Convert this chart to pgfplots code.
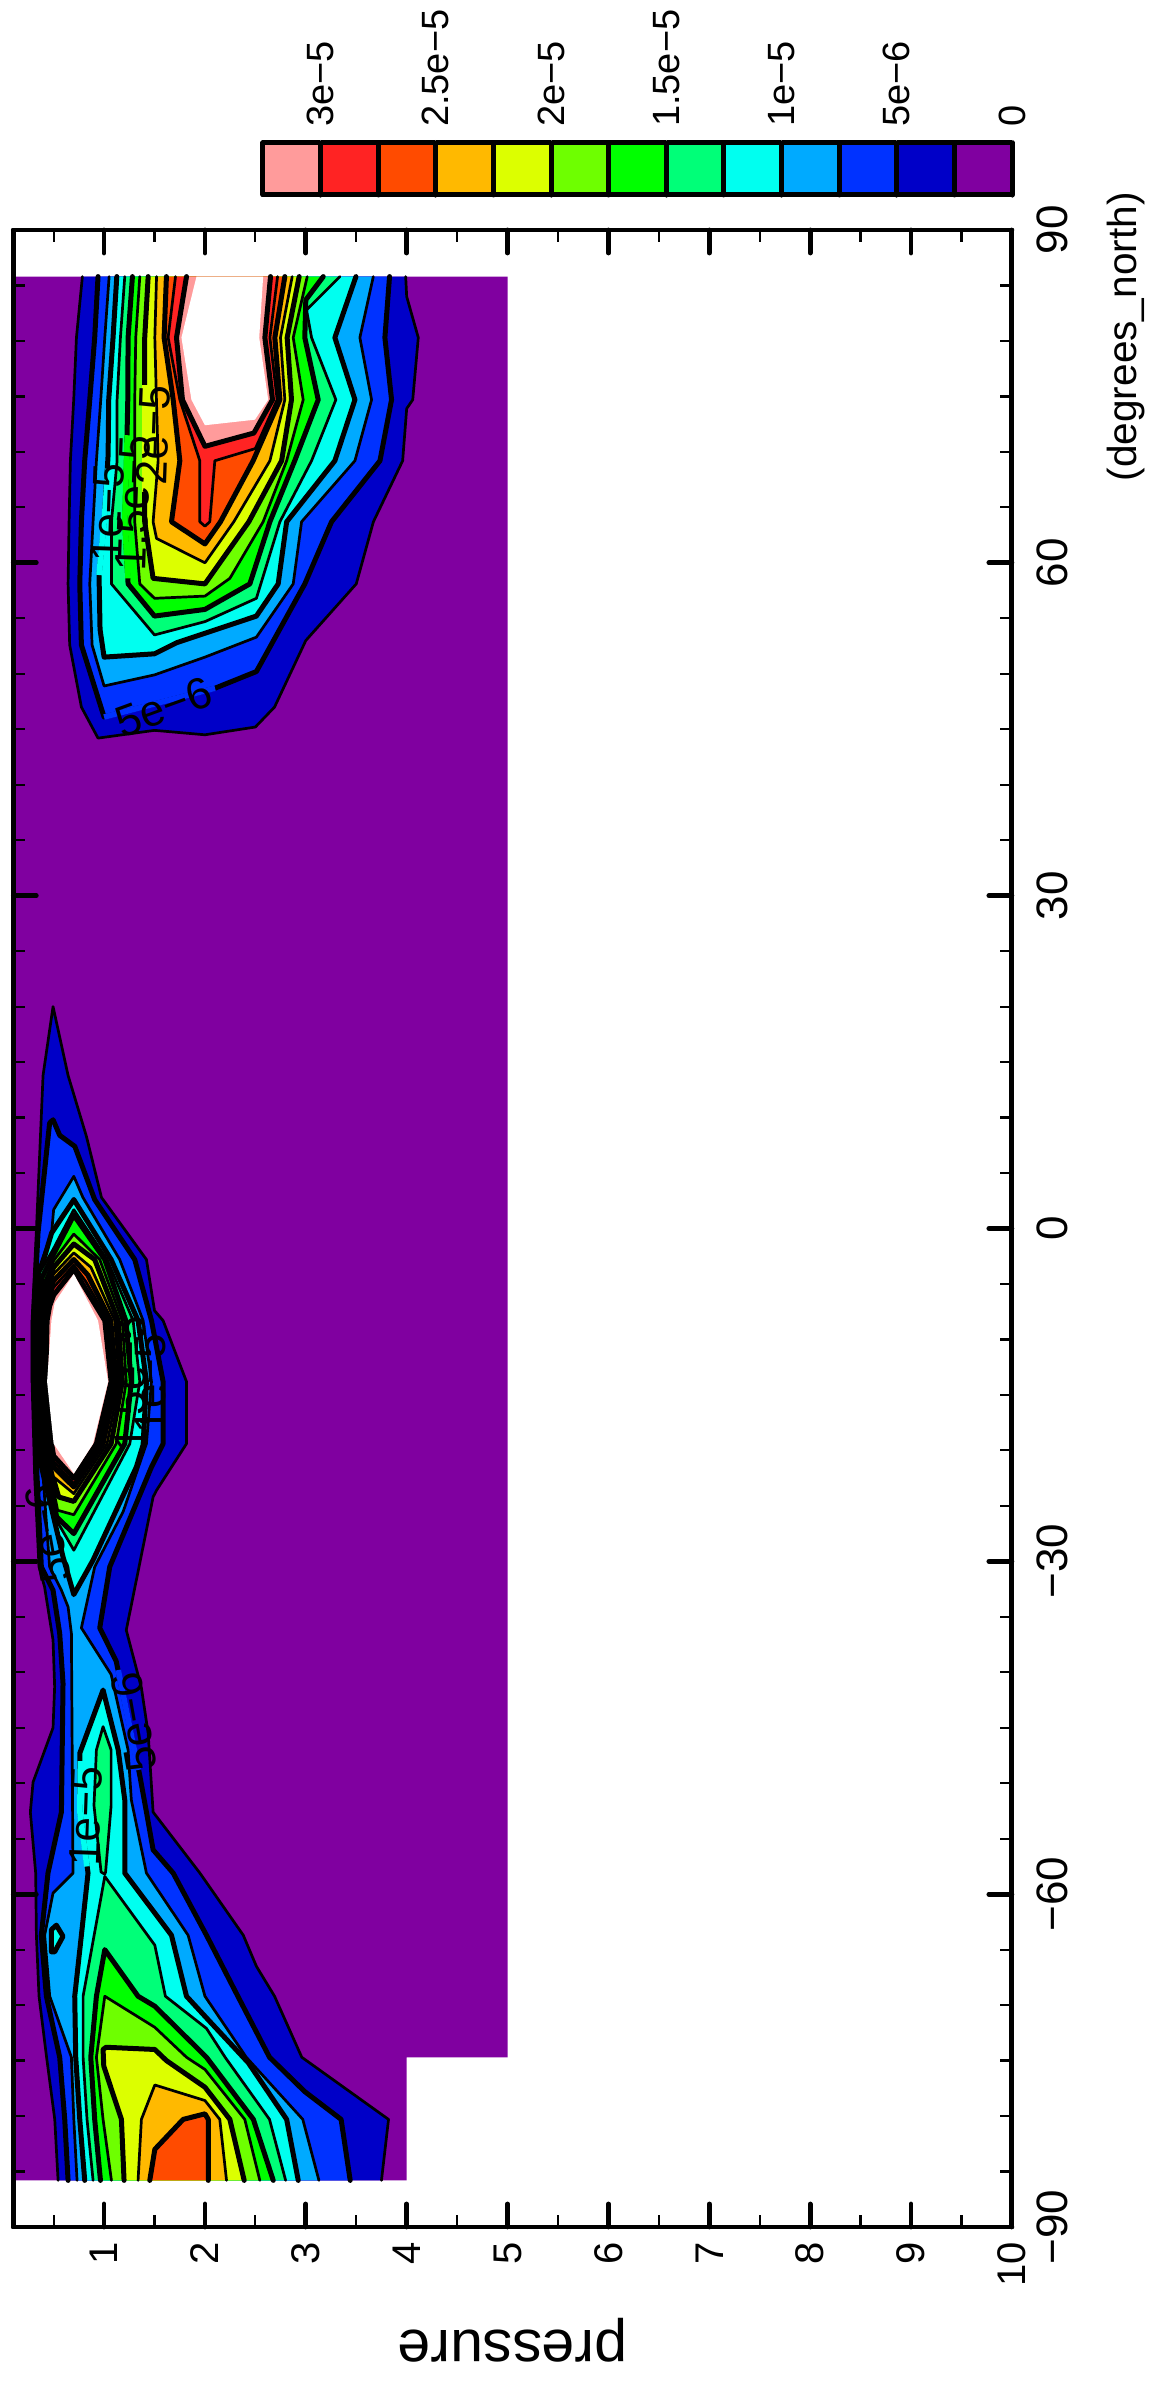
\documentclass[border=0pt]{standalone}
\usepackage{fontspec}
\setmainfont{Liberation Sans}
\usepackage{pgfplots}
\pgfplotsset{compat=1.18}
\definecolor{c0}{RGB}{128,0,160}
\definecolor{c1}{RGB}{0,0,200}
\definecolor{c2}{RGB}{0,50,255}
\definecolor{c3}{RGB}{0,170,255}
\definecolor{c4}{RGB}{0,255,240}
\definecolor{c5}{RGB}{0,255,120}
\definecolor{c6}{RGB}{0,255,0}
\definecolor{c7}{RGB}{110,255,0}
\definecolor{c8}{RGB}{220,255,0}
\definecolor{c9}{RGB}{255,185,0}
\definecolor{c10}{RGB}{255,75,0}
\definecolor{c11}{RGB}{255,35,35}
\definecolor{c12}{RGB}{255,155,155}
\pgfplotsset{
  lnt/.style={draw=black,line width=1.35pt,line join=round,line cap=round},
  lnk/.style={draw=black,line width=2.5pt,line join=round,line cap=round},
}
\newcommand{\tfont}{\fontsize{20}{24}\selectfont}
\newcommand{\cfont}{\fontsize{22}{26}\selectfont}
\begin{document}
\begin{tikzpicture}
\path[use as bounding box] (0pt,0pt) rectangle (575.5pt,1191.5pt);
\begin{axis}[
  at={(6.65pt,78pt)}, anchor=south west,
  scale only axis, width=499.3pt, height=998.5pt,
  xmin=0.1, xmax=10, ymin=-90, ymax=90,
  axis on top, no markers,
  axis line style={line width=2.4pt,line join=round},
  xtick={1,2,3,4,5,6,7,8,9,10},
  xticklabels={1,2,3,4,5,6,7,8,9,10},
  minor xtick={0.5,1.5,2.5,3.5,4.5,5.5,6.5,7.5,8.5,9.5},
  ytick={-90,-60,-30,0,30,60,90},
  yticklabels={−90,−60,−30,0,30,60,90},
  minor ytick={-85,-80,-75,-70,-65,-55,-50,-45,-40,-35,-25,-20,-15,-10,-5,5,10,15,20,25,35,40,45,50,55,65,70,75,80,85},
  tick align=inside,
  major tick length=11.5pt, minor tick length=6pt,
  every major tick/.append style={line width=2.4pt,line cap=round,black},
  every minor tick/.append style={line width=1.1pt,black},
  yticklabel pos=right,
  xticklabel style={font=\tfont,rotate=90,anchor=east,xshift=-4pt},
  yticklabel style={font=\fontsize{22}{26}\selectfont,rotate=90,anchor=north,yshift=-9pt},
  xlabel={pressure},
  ylabel={(degrees\_north)},
  every axis x label/.style={at={(axis description cs:0.5,-0.0566)},anchor=center,rotate=180,font=\fontsize{29.5}{34}\selectfont},
  every axis y label/.style={at={(axis description cs:1.114,0.9465)},anchor=center,rotate=90,font=\fontsize{20.3}{24}\selectfont},
]
% data area
\addplot[fill=c0,draw=none] coordinates {(0.1,-85.8)(4,-85.8)(4,-74.7)(5,-74.7)(5,85.8)(0.1,85.8)};

% north blob
\addplot[lnt,fill=c1] coordinates {(0.785,85.8)(0.726,80.3)(0.699,74.7)(0.666,69.2)(0.653,63.7)(0.643,58.1)(0.659,52.6)(0.775,47)(0.94,44.2)(1.5,44.9)(2,44.5)(2.5,45.2)(2.69,47)(3,53)(3.5,58.1)(3.67,63.7)(3.96,69.2)(4,73.9)(4.06,74.7)(4.115,80.3)(4,84)(3.99,85.8)};
\addplot[lnk,fill=c2] coordinates {(0.94,85.8)(0.907,80.3)(0.858,74.7)(0.808,69.2)(0.775,63.7)(0.759,58.1)(0.775,52.6)(1.0,46.1)(2.1,48.7)(2.51,50.2)(2.99,58.1)(3.255,63.7)(3.735,69.2)(3.85,74.7)(3.784,80.3)(3.83,85.8)};
\addplot[lnt,fill=c3] coordinates {(1.05,85.8)(1.007,80.3)(0.967,74.7)(0.924,69.2)(0.891,63.7)(0.858,58.1)(0.881,52.6)(1.0,48.9)(1.5,49.9)(2,51.5)(2.51,53.3)(2.875,58.1)(2.958,63.7)(3.487,69.2)(3.652,74.7)(3.536,80.3)(3.669,85.8)};
\addplot[lnk,fill=c4] coordinates {(1.126,85.8)(1.089,80.3)(1.046,74.7)(1.04,69.7)(1.0,63.7)(0.95,58.9)(0.96,54)(1.0,51.5)(1.5,51.8)(1.72,52.8)(2.51,55.2)(2.726,58.1)(2.81,63.7)(3.288,69.2)(3.487,74.7)(3.288,80.3)(3.497,85.8)};
\addplot[lnt,fill=c5] coordinates {(1.205,85.8)(1.162,80.3)(1.129,74.7)(1.129,69.2)(1.073,63.7)(1.073,58.1)(1.5,53.5)(2,54.7)(2.51,56.8)(2.743,63.7)(3.057,69.2)(3.298,74.7)(3.057,80.3)(3.007,82.8)(3.338,85.8)};
\addplot[lnk,fill=c6] coordinates {(1.281,85.8)(1.238,80.3)(1.235,74.7)(1.222,69.2)(1.205,63.7)(1.238,58.1)(1.5,55.2)(2,55.8)(2.445,58.1)(2.644,63.7)(2.89,69.2)(3.123,74.7)(2.99,80.3)(3.0,83.7)(3.173,85.8)};
\addplot[lnt,fill=c7] coordinates {(1.354,85.8)(1.314,80.3)(1.304,74.7)(1.304,69.2)(1.304,63.7)(1.354,58.1)(1.5,56.8)(2,57)(2.247,58.6)(2.577,63.7)(2.81,69.2)(2.974,74.7)(2.875,80.3)(3.014,85.8)};
\addplot[lnk,fill=c8] coordinates {(1.437,85.8)(1.403,80.3)(1.403,74.7)(1.403,69.2)(1.403,63.7)(1.486,58.6)(2,58.1)(2.435,63.7)(2.76,69.2)(2.858,74.7)(2.815,80.3)(2.934,85.8)};
\addplot[lnt,fill=c9] coordinates {(1.52,85.8)(1.503,80.3)(1.519,74.7)(1.536,69.2)(1.486,63.7)(1.52,62.2)(2,60)(2.286,63.7)(2.644,69.2)(2.792,74.7)(2.749,80.3)(2.865,85.8)};
\addplot[lnk,fill=c10] coordinates {(1.618,85.8)(1.595,80.3)(1.685,74.7)(1.751,69.2)(1.668,63.7)(2,61.7)(2.154,63.7)(2.478,69.2)(2.743,74.7)(2.693,80.3)(2.792,85.8)};
\addplot[lnt,fill=c11] coordinates {(1.708,85.8)(1.635,80.3)(1.751,74.7)(1.949,69.2)(1.949,63.7)(2,63.3)(2.048,63.7)(2.098,69.2)(2.5,70.3)(2.716,74.7)(2.644,80.3)(2.72,85.8)};
\addplot[lnk,fill=c12] coordinates {(1.817,85.8)(1.718,80.3)(1.777,74.7)(2,70.5)(2.485,71.7)(2.67,74.7)(2.594,80.3)(2.65,85.8)};
\addplot[fill=white,draw=none] coordinates {(1.916,85.8)(1.767,80.3)(1.866,74.7)(2,72.4)(2.495,72.9)(2.627,74.7)(2.538,80.3)(2.577,85.8)};

% south and equatorial blob
\addplot[lnt,fill=c1] coordinates {(0.544,-85.8)(0.511,-80.3)(0.43,-74.7)(0.355,-69.2)(0.329,-63.7)(0.322,-58.1)(0.269,-52.6)(0.296,-49.9)(0.494,-45)(0.51,-41.3)(0.494,-37.1)(0.41,-32.3)(0.355,-30.5)(0.312,-22.4)(0.286,-13.8)(0.286,-8.3)(0.33,0)(0.395,13.8)(0.494,20)(0.643,13.8)(0.825,8.3)(0.974,2.8)(1.42,-2.8)(1.5,-7.4)(1.585,-8.3)(1.817,-13.8)(1.817,-19.4)(1.52,-23.6)(1.486,-24.2)(1.22,-36.2)(1.37,-41.4)(1.437,-45.5)(1.486,-52.6)(1.95,-58.1)(2.38,-63.7)(2.51,-66.5)(2.69,-69.2)(2.96,-74.7)(3.82,-80.3)(3.75,-85.8)};
\addplot[lnk,fill=c2] coordinates {(0.643,-85.8)(0.61,-80.3)(0.56,-74.7)(0.428,-69.2)(0.378,-63.7)(0.444,-58.1)(0.577,-52.6)(0.593,-41)(0.56,-36.5)(0.494,-32.6)(0.378,-30.5)(0.335,-22.3)(0.30,-13.8)(0.30,-8.3)(0.345,-0.4)(0.46,9.5)(0.494,9.8)(0.56,8.4)(0.71,7.4)(0.907,2.6)(1.304,-2.8)(1.47,-8.3)(1.585,-13.8)(1.585,-19.4)(1.47,-21.5)(1.056,-30.5)(0.957,-36)(1.12,-39)(1.354,-49.3)(1.42,-52.6)(1.486,-56)(1.685,-58.1)(2.015,-63.7)(2.326,-69.2)(2.64,-74.7)(2.99,-77.8)(3.35,-80.3)(3.44,-85.8)};
\addplot[lnt,fill=c3] coordinates {(0.732,-85.8)(0.70,-80.3)(0.676,-74.7)(0.461,-69.2)(0.411,-63.7)(0.494,-59.9)(0.692,-58.1)(0.676,-36.5)(0.643,-34.1)(0.577,-32.6)(0.46,-30.5)(0.395,-22.3)(0.32,-19.4)(0.31,-13.8)(0.31,-8.3)(0.34,-4)(0.48,-0.4)(0.5,1.7)(0.7,4.7)(0.79,2.8)(1.155,-2.8)(1.387,-8.3)(1.47,-13.8)(1.42,-19.4)(1.19,-25.5)(0.907,-30.5)(0.775,-36)(1.07,-40.2)(1.238,-47)(1.27,-51.5)(1.42,-58.1)(1.833,-63.7)(2.0,-69.2)(2.41,-74.7)(2.97,-80.3)(3.13,-85.8)};
\addplot[lnk,fill=c4] coordinates {(0.808,-85.8)(0.759,-80.3)(0.719,-74.7)(0.709,-69.2)(0.775,-63.7)(0.841,-58.1)(0.76,-52.6)(0.759,-47.3)(0.99,-41.6)(1.14,-47)(1.205,-51.5)(1.205,-58.1)(1.668,-63.7)(1.817,-69.2)(2.03,-71.3)(2.43,-75.2)(2.81,-80.3)(2.925,-85.8)};
\addplot[lnk,fill=c4] coordinates {(0.527,-62.8)(0.593,-63.8)(0.51,-65.2)(0.478,-65.2)(0.478,-63.2)(0.527,-62.8)};
\addplot[lnk,fill=c4] coordinates {(0.7,2.6)(0.48,-0.4)(0.33,-5)(0.32,-8.3)(0.32,-13.8)(0.33,-19.4)(0.40,-22.3)(0.46,-24.5)(0.593,-29.6)(0.7,-33)(0.89,-29.9)(1.32,-21.5)(1.387,-19.5)(1.42,-13.8)(1.337,-8.3)(1.07,-2.8)(0.7,2.6)};
\addplot[lnt,fill=c5] coordinates {(0.891,-85.8)(0.831,-80.3)(0.792,-74.7)(0.792,-69.2)(1.007,-58.4)(1.503,-64.6)(1.608,-69.2)(2.015,-72.1)(2.2,-74.7)(2.64,-80.3)(2.80,-85.8)};
\addplot[lnt,fill=c5] coordinates {(0.99,-44.9)(0.924,-47)(0.9,-52)(0.97,-58)(1.007,-58.2)(1.015,-58)(1.07,-52)(1.07,-47)(0.99,-44.9)};
\addplot[lnt,fill=c5] coordinates {(0.7,1.7)(0.494,-1.9)(0.36,-4)(0.335,-8.3)(0.335,-13.8)(0.345,-19.4)(0.43,-22.3)(0.51,-26)(0.7,-29)(1.255,-19.4)(1.354,-13.8)(1.288,-8.3)(1.03,-2.8)(0.7,1.7)};
\addplot[lnk,fill=c6] coordinates {(0.964,-85.8)(0.907,-80.3)(0.868,-74.7)(0.924,-69.2)(1.007,-65)(1.337,-69.2)(1.503,-70.1)(2.015,-74.7)(2.48,-80.3)(2.677,-85.8)};
\addplot[lnk,fill=c6] coordinates {(0.7,1.2)(0.5,-2.3)(0.38,-4.5)(0.35,-8.3)(0.35,-13.8)(0.36,-19.4)(0.45,-22.3)(0.53,-26)(0.7,-27.5)(1.205,-19.4)(1.27,-13.8)(1.215,-8.3)(1.007,-2.8)(0.7,1.2)};
\addplot[lnt,fill=c7] coordinates {(1.073,-85.8)(0.99,-80.3)(0.924,-74.7)(1.007,-69.2)(1.503,-72)(1.817,-74.7)(2.0,-75.8)(2.395,-80.3)(2.544,-85.8)};
\addplot[lnt,fill=c7] coordinates {(0.7,-0.5)(0.5,-2.9)(0.40,-5)(0.37,-8.3)(0.37,-13.8)(0.38,-19.4)(0.47,-22.3)(0.54,-25.4)(0.7,-25.8)(1.12,-19.4)(1.22,-13.8)(1.18,-8.3)(0.957,-2.8)(0.7,-0.5)};
\addplot[lnk,fill=c8] coordinates {(1.198,-85.8)(1.172,-80.3)(0.997,-75.5)(0.99,-74)(1.02,-73.8)(1.503,-74)(1.618,-75)(2.0,-77.4)(2.247,-80.3)(2.389,-85.8)};
\addplot[lnk,fill=c8] coordinates {(0.7,-1.4)(0.5,-3.5)(0.42,-5.3)(0.39,-8.3)(0.385,-13.8)(0.40,-19.4)(0.49,-22.3)(0.55,-24.2)(0.7,-24.6)(1.07,-19.4)(1.18,-13.8)(1.14,-8.3)(0.907,-2.8)(0.7,-1.4)};
\addplot[lnt,fill=c9] coordinates {(1.337,-85.8)(1.37,-80.3)(1.503,-77.2)(2,-78.6)(2.147,-80.3)(2.214,-85.8)};
\addplot[lnt,fill=c9] coordinates {(0.7,-2.2)(0.5,-4.1)(0.43,-5.7)(0.40,-8.3)(0.39,-13.8)(0.42,-19.4)(0.5,-22.4)(0.7,-23.9)(1.03,-19.4)(1.15,-13.8)(1.106,-8.3)(0.87,-3.5)(0.7,-2.2)};
\addplot[lnk,fill=c10] coordinates {(1.453,-85.8)(1.503,-83)(1.784,-80.3)(2,-79.8)(2.033,-80.3)(2.033,-85.8)};
\addplot[lnk,fill=c10] coordinates {(0.7,-2.8)(0.5,-4.7)(0.44,-6.2)(0.41,-8.3)(0.40,-13.8)(0.44,-19.4)(0.5,-21.5)(0.7,-23.3)(0.99,-19.4)(1.12,-13.8)(1.066,-8.3)(0.84,-4.2)(0.7,-2.8)};
\addplot[lnt,fill=c11] coordinates {(0.7,-3.3)(0.5,-5.3)(0.45,-6.6)(0.42,-8.3)(0.41,-13.8)(0.46,-19.4)(0.5,-21)(0.7,-23)(0.957,-19.4)(1.096,-13.8)(1.04,-8.3)(0.82,-4.8)(0.7,-3.3)};
\addplot[lnk,fill=c12] coordinates {(0.7,-3.7)(0.5,-6)(0.46,-7)(0.435,-8.3)(0.42,-13.8)(0.48,-19.4)(0.5,-20.5)(0.7,-22.5)(0.924,-19.4)(1.07,-13.8)(1.007,-8.3)(0.8,-5.2)(0.7,-3.7)};
\addplot[fill=white,draw=none] coordinates {(0.7,-4.1)(0.51,-6.7)(0.478,-8.3)(0.435,-13.8)(0.5,-19.4)(0.7,-22.1)(0.89,-19.4)(1.04,-13.8)(0.94,-8.3)};

% gaps in the lines under the contour labels
\addplot[draw=c2,line width=2.8pt] coordinates {(1.0,46.1)(2.1,48.7)};
\addplot[draw=c4,line width=2.8pt] coordinates {(1.04,68.5)(1.0,63.7)(0.95,58.9)};
\addplot[draw=c6,line width=2.8pt] coordinates {(1.23,71.5)(1.222,69.2)(1.205,63.7)(1.238,58.6)};
\addplot[draw=c8,line width=2.8pt] coordinates {(1.403,76)(1.403,66.4)};
\addplot[draw=c2,line width=2.8pt] coordinates {(1.14,-39.8)(1.34,-48.8)};
\addplot[draw=c4,line width=2.8pt] coordinates {(0.765,-48)(0.76,-52.6)(0.83,-57.5)};

% contour labels
\node[font=\cfont,rotate=20,inner sep=0pt] at (axis cs:1.59,47.0) {5e−6};
\node[font=\cfont,rotate=88,inner sep=0pt] at (axis cs:1.04,64.5) {1e−5};
\node[font=\cfont,rotate=88,inner sep=0pt] at (axis cs:1.29,65.4) {1.5e−5};
\node[font=\cfont,rotate=88,inner sep=0pt] at (axis cs:1.49,71.5) {2e−5};
\node[font=\cfont,rotate=88,inner sep=0pt] at (axis cs:0.82,-53) {1e−5};
\node[font=\cfont,rotate=100,inner sep=0pt] at (axis cs:1.30,-44.5) {5e−6};
\node[font=\cfont,rotate=100,inner sep=0pt] at (axis cs:0.44,-27.5) {5e−6};
\node[font=\cfont,rotate=90,inner sep=0pt] at (axis cs:1.46,-14.0) {1e−5};
\node[font=\cfont,rotate=90,inner sep=0pt] at (axis cs:1.26,-14.0) {1.5e−5};
\end{axis}
\begin{axis}[
  at={(131.5pt,1094pt)}, anchor=south west,
  scale only axis, width=374.5pt, height=26pt,
  x dir=reverse, xmin=0, xmax=32.5, ymin=0, ymax=1,
  axis on top, no markers, clip=false,
  axis line style={line width=2.4pt,line join=round},
  xtick={0,5,10,15,20,25,30},
  xticklabels={0,5e−6,1e−5,1.5e−5,2e−5,2.5e−5,3e−5},
  ytick=\empty,
  xticklabel pos=right,
  tick align=outside, major tick length=1.5pt,
  every major tick/.append style={line width=0.4pt,black!60},
  xticklabel style={font=\fontsize{19}{23}\selectfont,rotate=90,anchor=west,xshift=3pt},
]
\addplot[lnk,fill=c0] coordinates {(0,0)(2.5,0)(2.5,1)(0,1)(0,0)};
\addplot[lnk,fill=c1] coordinates {(2.5,0)(5,0)(5,1)(2.5,1)(2.5,0)};
\addplot[lnk,fill=c2] coordinates {(5,0)(7.5,0)(7.5,1)(5,1)(5,0)};
\addplot[lnk,fill=c3] coordinates {(7.5,0)(10,0)(10,1)(7.5,1)(7.5,0)};
\addplot[lnk,fill=c4] coordinates {(10,0)(12.5,0)(12.5,1)(10,1)(10,0)};
\addplot[lnk,fill=c5] coordinates {(12.5,0)(15,0)(15,1)(12.5,1)(12.5,0)};
\addplot[lnk,fill=c6] coordinates {(15,0)(17.5,0)(17.5,1)(15,1)(15,0)};
\addplot[lnk,fill=c7] coordinates {(17.5,0)(20,0)(20,1)(17.5,1)(17.5,0)};
\addplot[lnk,fill=c8] coordinates {(20,0)(22.5,0)(22.5,1)(20,1)(20,0)};
\addplot[lnk,fill=c9] coordinates {(22.5,0)(25,0)(25,1)(22.5,1)(22.5,0)};
\addplot[lnk,fill=c10] coordinates {(25,0)(27.5,0)(27.5,1)(25,1)(25,0)};
\addplot[lnk,fill=c11] coordinates {(27.5,0)(30,0)(30,1)(27.5,1)(27.5,0)};
\addplot[lnk,fill=c12] coordinates {(30,0)(32.5,0)(32.5,1)(30,1)(30,0)};
\end{axis}
\end{tikzpicture}
\end{document}
